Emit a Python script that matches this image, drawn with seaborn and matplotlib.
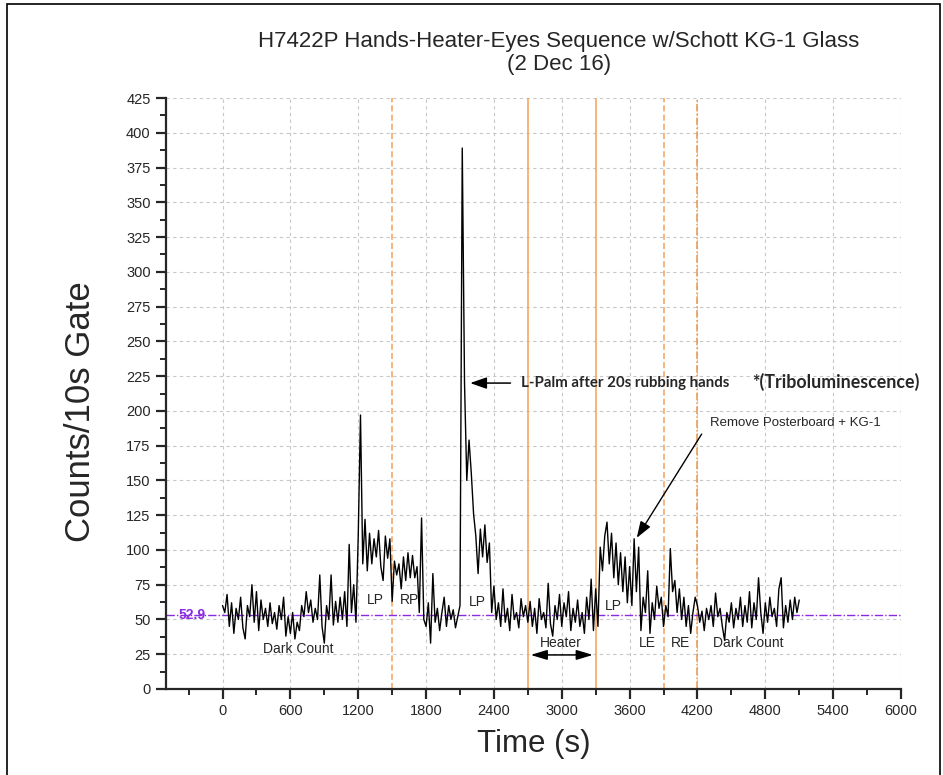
import numpy as np
import pandas as pd
import matplotlib
matplotlib.use("Agg")
import matplotlib.pyplot as plt
from matplotlib.ticker import MultipleLocator
import seaborn as sns

# ---------------- data ----------------
t_start, t_step = 0, 20
counts = [
    # 0 - 580
    60, 55, 68, 45, 62, 40, 58, 50, 66, 44, 36, 60, 52, 75, 48, 70, 42, 64, 50, 58,
    45, 62, 47, 55, 43, 60, 50, 66, 38, 52,
    # 600 - 1180
    40, 55, 36, 48, 42, 60, 52, 70, 55, 64, 48, 58, 50, 82, 45, 33, 60, 50, 82, 46,
    63, 48, 66, 50, 70, 45, 104, 55, 75, 48,
    # 1200 - 1780
    110, 197, 90, 122, 85, 112, 90, 108, 95, 114, 88, 78, 110, 94, 108, 63, 92, 82, 90, 72,
    95, 78, 98, 80, 96, 80, 88, 55, 123, 50,
    # 1800 - 2380
    45, 62, 33, 83, 48, 58, 42, 55, 66, 45, 60, 50, 57, 44, 52, 60, 389, 220, 150, 179,
    155, 126, 110, 83, 115, 95, 118, 91, 105, 55,
    # 2400 - 2980
    74, 50, 62, 45, 72, 48, 58, 42, 68, 50, 55, 44, 65, 52, 60, 48, 63, 45, 58, 40,
    65, 50, 55, 44, 76, 47, 38, 60, 50, 68,
    # 3000 - 3580
    45, 62, 52, 70, 42, 58, 48, 64, 45, 55, 40, 66, 50, 79, 42, 72, 45, 102, 85, 110,
    120, 90, 112, 80, 105, 75, 98, 70, 95, 62,
    # 3600 - 4180
    88, 60, 108, 70, 102, 42, 66, 55, 85, 40, 62, 50, 74, 58, 66, 45, 60, 52, 101, 70,
    78, 55, 72, 50, 66, 45, 60, 40, 55, 66,
    # 4200 - 4780
    60, 48, 56, 42, 58, 50, 60, 45, 69, 52, 58, 45, 35, 55, 48, 62, 44, 58, 50, 66,
    45, 60, 48, 70, 44, 62, 50, 80, 55, 40,
    # 4800 - 5100
    62, 48, 66, 52, 58, 45, 72, 80, 44, 60, 48, 64, 50, 66, 55, 64,
]
times = np.arange(len(counts)) * t_step + t_start

mean_level = 52.9
mean_label = "52.9"
vlines_solid = [2700, 3300]
vlines_dashed = [1500, 3900]
vlines_dashdot = [4200]

segment_labels = ["LP", "RP", "LP", "LP", "LE", "RE", "Dark Count", "Dark Count"]
segment_x = [1352, 1652, 2253, 3455, 3755, 4047, 672, 4648]
segment_y = [64, 64, 62.5, 60, 33, 33, 29, 33]

title = "H7422P Hands-Heater-Eyes Sequence w/Schott KG-1 Glass\n(2 Dec 16)"

df = pd.DataFrame({"Time (s)": times, "Counts": counts})

# ---------------- figure ----------------
sns.set_style("ticks")
plt.rcParams["font.family"] = ["Liberation Sans", "DejaVu Sans"]

fig = plt.figure(figsize=(9.43, 7.75), dpi=100)
ax = fig.add_axes([166 / 943, 1 - 689 / 775, (901 - 166) / 943, (689 - 98) / 775])

orange = "#F4A257"
for xv in vlines_solid:
    ax.axvline(xv, color=orange, lw=1.1, zorder=1)
for xv in vlines_dashed:
    ax.axvline(xv, color=orange, lw=1.1, ls=(0, (4, 2)), zorder=1)
for xv in vlines_dashdot:
    ax.axvline(xv, color="#E8964A", lw=1.1, ls=(0, (5, 1.5, 1, 1.5)), zorder=1)

ax.axhline(mean_level, color="#8A2BE2", lw=1.0, ls=(0, (6, 1.5, 1, 1.5)), zorder=2)

sns.lineplot(data=df, x="Time (s)", y="Counts", ax=ax, color="black", lw=1.0, zorder=3)

ax.set_xlim(-500, 6000)
ax.set_ylim(0, 425)
ax.xaxis.set_major_locator(MultipleLocator(600))
ax.xaxis.set_minor_locator(MultipleLocator(300))
ax.yaxis.set_major_locator(MultipleLocator(25))
ax.yaxis.set_minor_locator(MultipleLocator(12.5))
ax.set_xticks([x for x in range(0, 6001, 600)])
ax.grid(True, which="major", color="#C8C8C8", ls=(0, (3, 3)), lw=0.8)
ax.set_axisbelow(True)

for s in ["top", "right"]:
    ax.spines[s].set_visible(False)
for s in ["left", "bottom"]:
    ax.spines[s].set_linewidth(1.6)
ax.tick_params(which="major", direction="out", length=7, width=1.6, labelsize=10.5, pad=4)
ax.tick_params(which="minor", direction="out", length=4, width=1.4)

ax.set_xlabel("Time (s)", fontsize=22.5, labelpad=8)
ax.set_ylabel("Counts/10s Gate", fontsize=25)
ax.yaxis.set_label_coords((97 - 166) / 735, 0.47)

fig.text(559 / 943, 1 - 53 / 775, title, ha="center", va="center", fontsize=16,
         linespacing=1.15)

# mean label
ax.text(-270, mean_level, mean_label, color="#8A2BE2", fontsize=10, fontweight="bold",
        ha="center", va="center", zorder=5)

for lab, xv, yv in zip(segment_labels, segment_x, segment_y):
    ax.text(xv, yv, lab, ha="center", va="center", fontsize=10, zorder=5)

# annotations
ax.annotate("", xy=(2165, 220), xytext=(2571, 220),
            arrowprops=dict(arrowstyle="-|>,head_length=1.0,head_width=0.35", color="black", lw=1.1))
ax.text(2642, 220, "L-Palm after 20s rubbing hands", fontsize=10.8, fontweight="bold",
        ha="left", va="center", family=["Lato", "DejaVu Sans"])
ax.text(4683, 221, "*(Triboluminescence)", fontsize=12.8, fontweight="bold",
        ha="left", va="center", family=["Lato", "DejaVu Sans"])

ax.text(4312, 191, "Remove Posterboard + KG-1", fontsize=9.5, ha="left", va="center")
ax.annotate("", xy=(3650, 107), xytext=(4250, 185),
            arrowprops=dict(arrowstyle="-|>,head_length=1.0,head_width=0.35", color="black", lw=1.0))

ax.text(2995, 33, "Heater", fontsize=10, ha="center", va="center")
ax.annotate("", xy=(2700, 24.5), xytext=(3300, 24.5),
            arrowprops=dict(arrowstyle="<|-|>,head_length=1.0,head_width=0.3", color="black", lw=1.1))

# outer border
border = plt.Rectangle((7 / 943, -0.05), (940 - 7) / 943, 1.05 - 4 / 775, transform=fig.transFigure,
                       fill=False, edgecolor="black", lw=1.2)
fig.patches.append(border)

fig.savefig("out.png", dpi=100)
